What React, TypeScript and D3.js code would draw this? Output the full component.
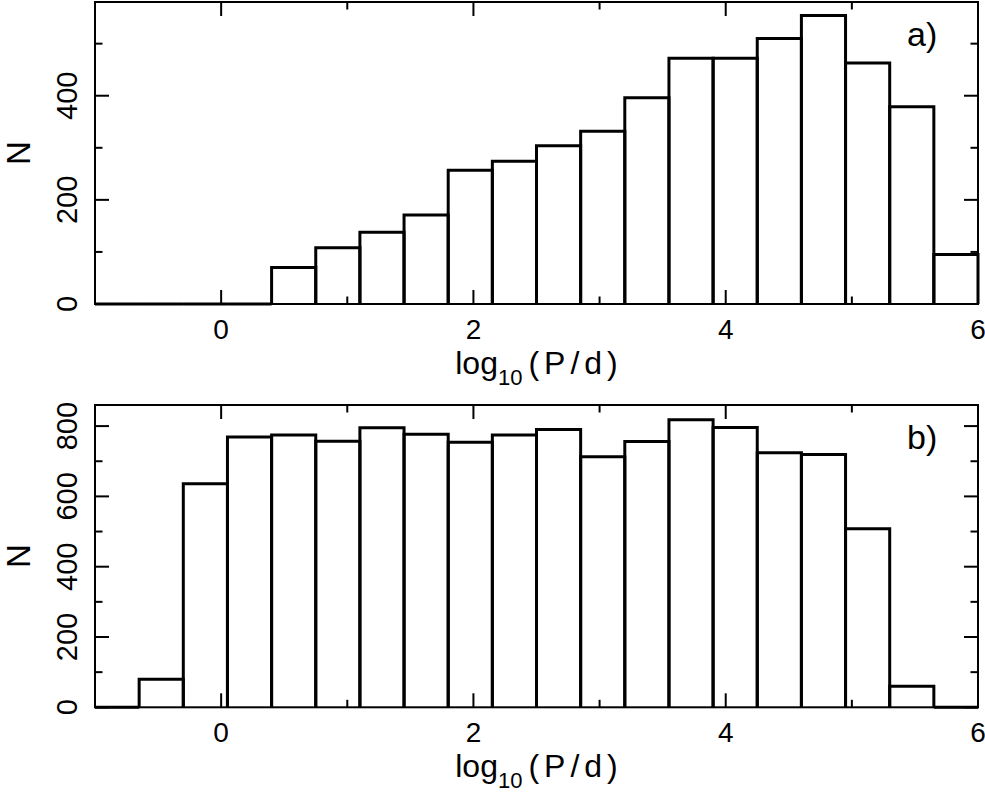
import React from 'react';
import * as d3 from 'd3';

// histogram bins in log10(P/d)
const binEdges = [-1, -0.65, -0.3, 0.05, 0.4, 0.75, 1.1, 1.45, 1.8, 2.15, 2.5, 2.85, 3.2, 3.55, 3.9, 4.25, 4.6, 4.95, 5.3, 5.65, 6];

const countsA = [0, 0, 0, 0, 70, 108, 138, 171, 257, 274, 304, 332, 396, 472, 472, 510, 554, 463, 379, 95];
const countsB = [0, 80, 636, 769, 775, 757, 795, 777, 754, 775, 790, 713, 756, 818, 796, 724, 719, 508, 60, 0];

const xMajor = [0, 2, 4, 6];
const xMinor = [1, 3, 5];
const yMajorA = [0, 200, 400];
const yMinorA = [100, 300, 500];
const yMajorB = [0, 200, 400, 600, 800];
const yMinorB = [100, 300, 500, 700];

const W = 985;
const H = 794;
const FONT = '"Liberation Sans", Arial, sans-serif';

const x = d3.scaleLinear().domain([-1, 6]).range([95, 978]);

interface PanelProps {
  counts: number[];
  yMax: number;
  top: number;
  bottom: number;
  yMajor: number[];
  yMinor: number[];
  tag: string;
}

function Panel({ counts, yMax, top, bottom, yMajor, yMinor, tag }: PanelProps) {
  const y = d3.scaleLinear().domain([0, yMax]).range([bottom, top]);
  const [x0, x1] = x.range();
  const big = 14;
  const small = 7.5;

  const bars = counts.map((c, i) => {
    const p = d3.path();
    p.moveTo(x(binEdges[i]), y(0));
    p.lineTo(x(binEdges[i]), y(c));
    p.lineTo(x(binEdges[i + 1]), y(c));
    p.lineTo(x(binEdges[i + 1]), y(0));
    return p.toString();
  });

  return (
    <g>
      {/* frame */}
      <rect x={x0} y={top} width={x1 - x0} height={bottom - top} fill="none" stroke="#000" strokeWidth={2} />

      {/* x ticks, top and bottom */}
      {xMajor.concat(xMinor).map(v => {
        const len = xMajor.includes(v) ? big : small;
        return (
          <g key={'x' + v}>
            <line x1={x(v)} x2={x(v)} y1={bottom} y2={bottom - len} stroke="#000" strokeWidth={2} />
            <line x1={x(v)} x2={x(v)} y1={top} y2={top + len} stroke="#000" strokeWidth={2} />
          </g>
        );
      })}

      {/* y ticks, left and right */}
      {yMajor.concat(yMinor).map(v => {
        const len = yMajor.includes(v) ? big : small;
        return (
          <g key={'y' + v}>
            <line x1={x0} x2={x0 + len} y1={y(v)} y2={y(v)} stroke="#000" strokeWidth={2} />
            <line x1={x1} x2={x1 - len} y1={y(v)} y2={y(v)} stroke="#000" strokeWidth={2} />
          </g>
        );
      })}

      {/* histogram */}
      {bars.map((d, i) => (
        <path key={i} d={d} fill="none" stroke="#000" strokeWidth={3} strokeLinejoin="miter" />
      ))}

      {/* x tick labels */}
      {xMajor.map(v => (
        <text key={'xl' + v} x={x(v)} y={bottom + 35} fontSize={28} textAnchor="middle" fontFamily={FONT}>{v}</text>
      ))}

      {/* y tick labels */}
      {yMajor.map(v => (
        <text key={'yl' + v} transform={`translate(77,${y(v)}) rotate(-90)`} fontSize={29} textAnchor="middle" fontFamily={FONT}>{v}</text>
      ))}

      {/* axis titles */}
      <text x={539} y={bottom + 70} textAnchor="middle" fontFamily={FONT} fontSize={32}>
        <tspan>log</tspan>
        <tspan fontSize={22} dy={11}>10</tspan>
        <tspan dy={-11} dx={6} letterSpacing={5}>(P/d)</tspan>
      </text>
      <text transform={`translate(30,${(top + bottom) / 2}) rotate(-90)`} textAnchor="middle" fontFamily={FONT} fontSize={33}>N</text>

      {/* panel tag */}
      <text x={907} y={top + 44} fontFamily={FONT} fontSize={34}>{tag}</text>
    </g>
  );
}

export default function App() {
  return (
    <svg width={W} height={H} viewBox={`0 0 ${W} ${H}`} style={{ position: 'absolute', left: 0, top: 0, background: '#fff' }}>
      <rect width={W} height={H} fill="#fff" />
      <Panel counts={countsA} yMax={580} top={2} bottom={304} yMajor={yMajorA} yMinor={yMinorA} tag="a)" />
      <Panel counts={countsB} yMax={860} top={405} bottom={707.3} yMajor={yMajorB} yMinor={yMinorB} tag="b)" />
    </svg>
  );
}
